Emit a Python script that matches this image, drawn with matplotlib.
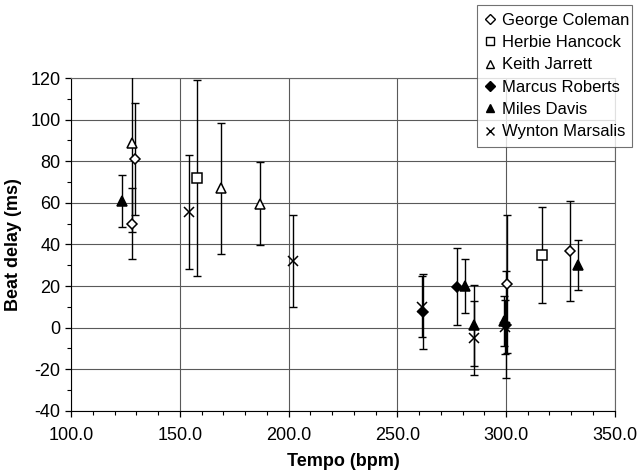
import matplotlib
matplotlib.use("Agg")
import matplotlib.pyplot as plt
from matplotlib.lines import Line2D
from matplotlib.ticker import MultipleLocator, FormatStrFormatter

plt.rcParams["font.family"] = ["Liberation Sans", "DejaVu Sans"]
plt.rcParams["axes.unicode_minus"] = False

# (tempo bpm, beat delay ms, error ms) per performer
coleman_x = [129.4, 127.9, 300.3, 329.4]
coleman_y = [81, 50, 21, 37]
coleman_e = [27, 17, 33, 24]

hancock_x = [158.1, 316.7]
hancock_y = [72, 35]
hancock_e = [47, 23]

jarrett_x = [127.9, 168.8, 186.9]
jarrett_y = [89, 67, 59.5]
jarrett_e = [43, 31.5, 20]

roberts_x = [262.0, 277.6, 300.0]
roberts_y = [7.6, 19.7, 1.4]
roberts_e = [18, 18.5, 25.6]

davis_x = [123.6, 281.1, 285.4, 299.2, 333.2]
davis_y = [61, 20, 1.2, 3, 30]
davis_e = [12.5, 12.8, 19.5, 12, 12]

marsalis_x = [154.4, 202.0, 261.2, 285.4, 299.5]
marsalis_y = [55.5, 32, 10, -5, 0.5]
marsalis_e = [27.5, 22, 14.7, 18, 13]

series = [
    ("George Coleman", coleman_x, coleman_y, coleman_e, "D", "white", 5.5),
    ("Herbie Hancock", hancock_x, hancock_y, hancock_e, "s", "white", 6.5),
    ("Keith Jarrett", jarrett_x, jarrett_y, jarrett_e, "^", "white", 7),
    ("Marcus Roberts", roberts_x, roberts_y, roberts_e, "D", "black", 5.5),
    ("Miles Davis", davis_x, davis_y, davis_e, "^", "black", 7),
    ("Wynton Marsalis", marsalis_x, marsalis_y, marsalis_e, "x", "black", 7),
]

fig = plt.figure(figsize=(6.41, 4.76), dpi=100)
ax = fig.add_axes([0.111, 0.137, 0.848, 0.699])

handles = []
for name, x, y, e, m, fc, ms in series:
    ax.errorbar(x, y, yerr=e, fmt="none", ecolor="black", elinewidth=1.0,
                capsize=3.2, capthick=1.0, zorder=3)
    ax.plot(x, y, linestyle="none", marker=m, markersize=ms,
            markerfacecolor=fc, markeredgecolor="black", markeredgewidth=1.1,
            zorder=4)
    handles.append(Line2D([], [], linestyle="none", marker=m, markersize=ms * 0.85,
                          markerfacecolor=fc, markeredgecolor="black",
                          markeredgewidth=1.0, label=name))

ax.set_xlim(100, 350)
ax.set_ylim(-40, 120)
ax.xaxis.set_major_locator(MultipleLocator(50))
ax.xaxis.set_minor_locator(MultipleLocator(10))
ax.yaxis.set_major_locator(MultipleLocator(20))
ax.yaxis.set_minor_locator(MultipleLocator(10))
ax.xaxis.set_major_formatter(FormatStrFormatter("%.1f"))
ax.tick_params(which="major", direction="out", length=4, width=0.9, labelsize=13)
ax.tick_params(axis="x", which="major", pad=8)
ax.tick_params(which="minor", direction="out", length=3, width=0.8)
ax.grid(True, which="major", color="0.35", linewidth=0.8)
ax.set_axisbelow(True)
for side in ["top", "right"]:
    ax.spines[side].set_color("0.4")
    ax.spines[side].set_linewidth(0.8)

ax.set_xlabel("Tempo (bpm)", fontsize=13, fontweight="bold", labelpad=6)
ax.set_ylabel("Beat delay (ms)", fontsize=13, fontweight="bold", labelpad=6)

leg = fig.legend(handles=handles, loc="upper left",
                 bbox_to_anchor=(0.744, 0.689, 0.242, 0.300), mode="expand",
                 fontsize=12, frameon=True, fancybox=False, handlelength=0.7,
                 handletextpad=0.35, borderpad=0.45, labelspacing=0.44,
                 borderaxespad=0.0)
leg.get_frame().set_edgecolor("0.3")
leg.get_frame().set_linewidth(0.8)

fig.savefig("out.png", dpi=100)
